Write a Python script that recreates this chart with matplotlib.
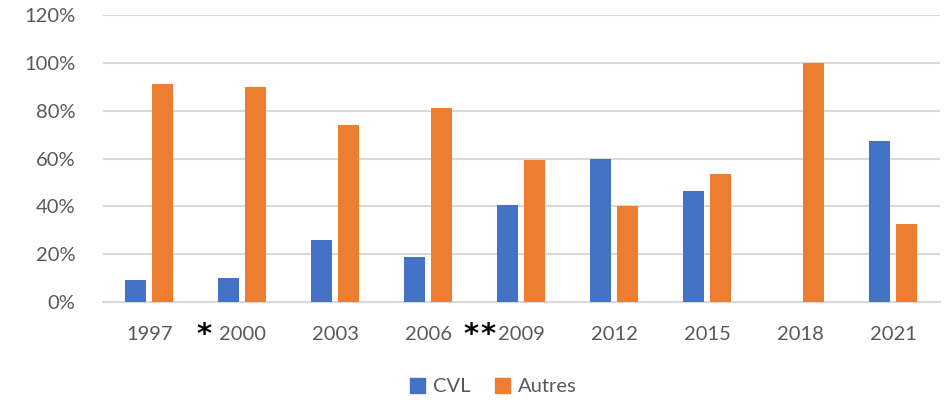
import numpy as np
from matplotlib import pyplot as plt
from matplotlib.patches import Patch

years = ['1997', '2000', '2003', '2006', '2009', '2012', '2015', '2018', '2021']
cvl = [9, 10, 26, 19, 40.5, 60, 46.5, 0, 67.5]
autres = [91, 90, 74, 81, 59.5, 40, 53.5, 100, 32.5]

BLUE = '#4472C4'
ORANGE = '#ED7D31'
GREY = '#595959'

plt.rcParams['font.family'] = ['Lato', 'DejaVu Sans']

fig = plt.figure(figsize=(9.53, 4.0), dpi=100)
ax = fig.add_axes([0.108, 0.245, 0.878, 0.7175])

x = np.arange(len(years))
w = 0.226
off = 0.145
ax.bar(x - off, cvl, w, color=BLUE, zorder=3)
ax.bar(x + off, autres, w, color=ORANGE, zorder=3)

ax.set_xlim(-0.5, len(years) - 0.5)
ax.set_ylim(0, 120)
ax.set_yticks(range(0, 121, 20))
ax.set_yticklabels(['%d%%' % v for v in range(0, 121, 20)])
ax.set_xticks(x)
ax.set_xticklabels(years)
ax.tick_params(axis='both', length=0, labelsize=14.5, colors=GREY)
ax.tick_params(axis='x', pad=17)
ax.tick_params(axis='y', pad=20)
ax.grid(axis='y', color='#D9D9D9', linewidth=1.5, zorder=0)
for s in ['top', 'right', 'left']:
    ax.spines[s].set_visible(False)
ax.spines['bottom'].set_color('#D9D9D9')
ax.spines['bottom'].set_linewidth(1.5)

# asterisks next to the year labels
for xs in [0.586, 3.457, 3.645]:
    ax.text(xs, -17, '*', ha='center', va='baseline', fontsize=21,
            fontweight='bold', color='black', family='DejaVu Sans',
            clip_on=False)

handles = [Patch(color=BLUE, label='CVL'), Patch(color=ORANGE, label='Autres')]
fig.legend(handles=handles, loc='center', bbox_to_anchor=(0.518, 0.033),
           ncol=2, frameon=False, fontsize=14.5, labelcolor=GREY,
           handlelength=0.75, handleheight=0.75, handletextpad=0.4,
           columnspacing=1.2)

fig.savefig('out.png', dpi=100)
